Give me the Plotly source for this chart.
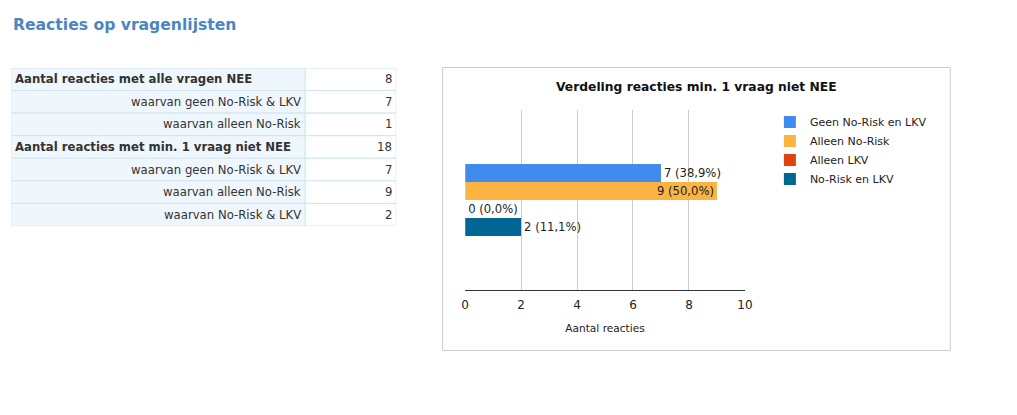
import plotly.graph_objects as go

W, H = 1017, 415

# ---- data ----
page_title = "Reacties op vragenlijsten"
table_labels = [
    "Aantal reacties met alle vragen NEE",
    "waarvan geen No-Risk & LKV",
    "waarvan alleen No-Risk",
    "Aantal reacties met min. 1 vraag niet NEE",
    "waarvan geen No-Risk & LKV",
    "waarvan alleen No-Risk",
    "waarvan No-Risk & LKV",
]
table_values = [8, 7, 1, 18, 7, 9, 2]
table_bold = [True, False, False, True, False, False, False]

chart_title = "Verdeling reacties min. 1 vraag niet NEE"
category = ["min. 1 vraag niet NEE"]
series_names = ["Geen No-Risk en LKV", "Alleen No-Risk", "Alleen LKV", "No-Risk en LKV"]
series_values = [7, 9, 0, 2]
series_colors = ["#428bee", "#fbb442", "#e0440e", "#026694"]
x_ticks = [0, 2, 4, 6, 8, 10]
x_title = "Aantal reacties"

FONT = "DejaVu Sans"
TXT = "#222222"

# horizontal calibration of the capture (measured: screen_x ~ 3.5 + 0.989 * paper_px)
CAL_OFF, CAL_SCALE = 3.5, 0.989


def px_x(p):
    return ((p - CAL_OFF) / CAL_SCALE) / W


def px_y(p):
    return 1 - p / H


fig = go.Figure()

# ---- bars ----
total = sum(series_values)
for name, v, c in zip(series_names, series_values, series_colors):
    pct = f"{100 * v / total:.1f}".replace(".", ",")
    inside = v == max(series_values)
    fig.add_trace(go.Bar(
        x=[v], y=category, orientation="h", name=name,
        marker=dict(color=c, line=dict(width=0)),
        text=[f"{v} ({pct}%)"],
        textposition="inside" if inside else "outside",
        insidetextanchor="end",
        constraintext="none",
        textfont=dict(family=FONT, size=11.6, color=TXT),
        cliponaxis=False,
        hoverinfo="skip",
    ))

# ---- table (cells as shapes on its own hidden axes, text as annotations) ----
TABLE_X0, TABLE_X1, TABLE_Y0, TABLE_Y1 = 11, 396, 68, 226
SPLIT = 294 / 385          # label column share of table width
PAD = 3 / 385              # text inset
n_rows = len(table_labels)

shapes = []
annotations = []
for r, (lab, val, b) in enumerate(zip(table_labels, table_values, table_bold)):
    shapes.append(dict(type="rect", xref="x2", yref="y2", x0=0, x1=SPLIT, y0=r, y1=r + 1,
                       fillcolor="#f0f7fc", line=dict(color="#cfe5f2", width=1), layer="below"))
    shapes.append(dict(type="rect", xref="x2", yref="y2", x0=SPLIT, x1=1, y0=r, y1=r + 1,
                       fillcolor="#ffffff", line=dict(color="#cfe5f2", width=1), layer="below"))
    annotations.append(dict(
        text=f"<b>{lab}</b>" if b else lab, xref="x2", yref="y2",
        x=PAD if b else SPLIT - PAD, y=r + 0.5,
        xanchor="left" if b else "right", yanchor="middle", showarrow=False, borderpad=0,
        font=dict(family=FONT, size=11.7, color="#333333")))
    annotations.append(dict(
        text=str(val), xref="x2", yref="y2", x=1 - PAD, y=r + 0.5,
        xanchor="right", yanchor="middle", showarrow=False, borderpad=0,
        font=dict(family=FONT, size=11.7, color="#333333")))

# chart frame
shapes.append(dict(
    type="rect", xref="paper", yref="paper",
    x0=px_x(442.5), x1=px_x(950.5), y0=px_y(350.5), y1=px_y(67.5),
    line=dict(color="#cccccc", width=1), fillcolor="rgba(0,0,0,0)", layer="below"))

annotations += [
    dict(text=f"<b>{page_title}</b>", xref="paper", yref="paper",
         x=px_x(12), y=px_y(24.5), xanchor="left", yanchor="middle", showarrow=False, borderpad=0,
         font=dict(family=FONT, size=15.6, color="#4a86c4")),
    dict(text=f"<b>{chart_title}</b>", xref="paper", yref="paper",
         x=px_x(697), y=px_y(87.5), xanchor="center", yanchor="middle", showarrow=False, borderpad=0,
         font=dict(family=FONT, size=12.3, color="#111111")),
]

fig.update_layout(
    width=W, height=H, autosize=False,
    margin=dict(l=0, r=0, t=0, b=0),
    paper_bgcolor="white", plot_bgcolor="white",
    font=dict(family=FONT, size=11, color=TXT),
    barmode="group", bargap=0.6, bargroupgap=0,
    showlegend=True,
    legend=dict(
        x=px_x(770), y=px_y(107.5), xanchor="left", yanchor="top",
        font=dict(family=FONT, size=11, color=TXT),
        bgcolor="rgba(0,0,0,0)", tracegroupgap=0,
    ),
    xaxis=dict(
        domain=[px_x(465), px_x(745)], range=[0, 10],
        tickvals=x_ticks, ticktext=[str(t) for t in x_ticks],
        showgrid=True, gridcolor="#cccccc", gridwidth=1,
        zeroline=False, showline=True, linecolor="#333333", linewidth=1,
        ticks="", ticklabelstandoff=4, tickfont=dict(family=FONT, size=12, color=TXT),
        title=dict(text=x_title, font=dict(family=FONT, size=10.6, color=TXT), standoff=13),
        fixedrange=True,
    ),
    yaxis=dict(
        domain=[px_y(290), px_y(110)],
        showticklabels=False, showgrid=False, zeroline=False, showline=False,
        autorange="reversed", fixedrange=True,
    ),
    xaxis2=dict(
        domain=[px_x(TABLE_X0), px_x(TABLE_X1)], range=[0, 1], anchor="y2",
        showticklabels=False, showgrid=False, zeroline=False, showline=False, ticks="",
        fixedrange=True,
    ),
    yaxis2=dict(
        domain=[px_y(TABLE_Y1), px_y(TABLE_Y0)], range=[n_rows, 0], anchor="x2",
        showticklabels=False, showgrid=False, zeroline=False, showline=False, ticks="",
        fixedrange=True,
    ),
    shapes=shapes,
    annotations=annotations,
)

fig.write_html(
    "out.html",
    config={"displayModeBar": False},
    post_script="document.body.style.margin='0';document.body.style.overflow='hidden';",
)
